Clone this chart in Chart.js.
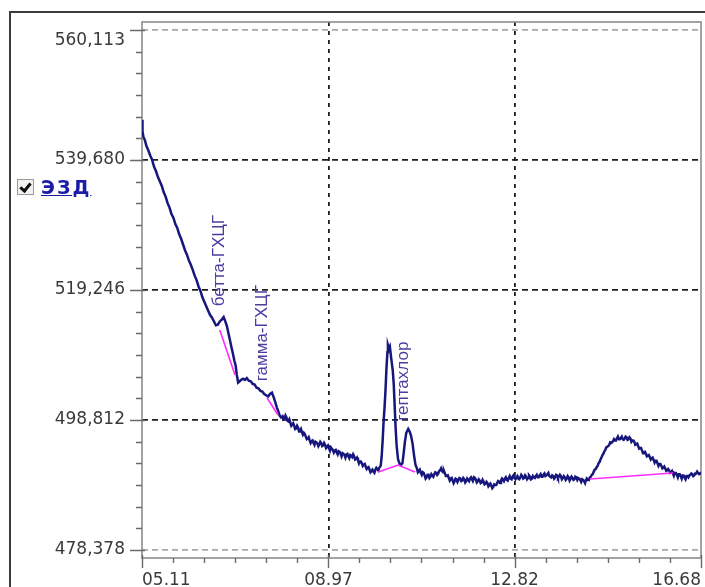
<!DOCTYPE html>
<html>
<head>
<meta charset="utf-8">
<script src="https://cdn.jsdelivr.net/npm/chart.js@4/dist/chart.umd.min.js"></script>
<style>
  html, body { margin: 0; padding: 0; background: #fff; }
  #wrap { position: relative; width: 705px; height: 587px; overflow: hidden; background: #fff; }
  #frame { position: absolute; left: 9px; top: 11px; width: 720px; height: 600px;
           border-left: 2px solid #3c3c3c; border-top: 2px solid #3c3c3c; }
  #chart { position: absolute; left: 0; top: 0; }
  #legend { position: absolute; left: 17px; top: 177px; height: 20px; display: flex; align-items: center; }
  #legend .box { position: relative; width: 17px; height: 16px; box-sizing: border-box;
                 border: 1px solid #9a9a9a; background: #f2f2ee; margin-right: 7px; }
  #legend .box::after { content: ""; position: absolute; left: 4px; top: 1px; width: 4px; height: 8px;
                        border-right: 3px solid #111; border-bottom: 3px solid #111; transform: rotate(40deg); }
  #legend .name { font: bold 19px "DejaVu Sans", sans-serif; color: #1c1ca8; text-decoration: underline;
                  letter-spacing: 2px; }
</style>
</head>
<body>
<div id="wrap">
  <div id="frame"></div>
  <canvas id="chart" width="705" height="587"></canvas>
  <div id="legend"><span class="box"></span><span class="name">ЭЗД</span></div>
</div>
<script>
// Axis tick labels as printed by the acquisition software
const xTickLabels = ["05.11", "08.97", "12.82", "16.68"];
const yTickLabels = ["478,378", "498,812", "519,246", "539,680", "560,113"];

// Detector trace, [retention time (min), signal], split into stretches
const traceDescent = [
  [5.11,546.0],[5.12,544.2],[5.14,543.3],[5.17,542.8],[5.20,541.9],[5.24,541.2],[5.28,540.4],[5.32,539.7],
  [5.36,538.6],[5.40,537.9],[5.44,537.0],[5.48,536.3],[5.52,535.6],[5.56,534.6],[5.60,533.9],[5.64,532.9],
  [5.68,532.2],[5.72,531.2],[5.76,530.6],[5.80,529.6],[5.84,529.0],[5.88,528.0],[5.92,527.3],[5.96,526.4],
  [6.00,525.5],[6.04,524.8],[6.08,523.9],[6.12,523.2],[6.16,522.4],[6.20,521.5],[6.24,520.8],[6.28,519.8],
  [6.32,519.1],[6.36,518.1],[6.40,517.4],[6.44,516.7],[6.48,516.0],[6.52,515.3],[6.56,514.9],[6.60,514.3],
  [6.64,513.7],[6.68,513.8],[6.72,514.3],[6.76,514.6],[6.80,515.0],[6.84,514.2],[6.87,513.5],[6.90,512.4],
  [6.93,511.4],[6.96,510.3],[6.99,509.3],[7.02,508.2],[7.05,507.3],[7.07,506.0],[7.10,504.7],[7.13,504.9],
  [7.16,505.1],[7.20,505.3],[7.24,505.1],[7.28,505.4],[7.32,505.0],[7.36,504.9],[7.40,504.5],[7.44,504.4],
  [7.48,503.9],[7.52,503.8],[7.56,503.4],[7.60,503.3],[7.64,502.9],[7.68,502.7],[7.72,502.5],[7.76,502.9],
  [7.80,503.1],[7.84,502.3],[7.87,501.6],[7.90,500.8],[7.93,500.2],[7.96,499.5],[7.99,499.2]
];
const traceMid = [
  [8.02,499.4],[8.04,498.9],[8.06,499.0],[8.08,499.5],[8.10,499.2],[8.12,498.7],[8.14,498.6],[8.16,498.9],
  [8.18,498.4],[8.20,497.9],[8.22,498.1],[8.24,498.3],[8.26,497.9],[8.28,497.4],[8.30,497.5],[8.32,497.9],
  [8.34,497.6],[8.36,497.0],[8.38,497.1],[8.40,497.4],[8.42,496.9],[8.44,496.5],[8.46,496.8],[8.48,496.6],
  [8.50,496.2],[8.52,495.8],[8.54,495.9],[8.56,496.1],[8.58,495.6],[8.60,495.2],[8.62,495.5],[8.64,495.6],
  [8.66,495.2],[8.68,494.9],[8.70,495.4],[8.72,495.3],[8.74,495.1],[8.76,494.7],[8.78,495.0],[8.80,495.4],
  [8.82,495.2],[8.84,494.7],[8.86,494.8],[8.88,495.2],[8.90,494.9],[8.92,494.4],[8.94,494.6],[8.96,494.8],
  [8.98,494.4],[9.00,494.0],[9.02,494.5],[9.04,494.3],[9.06,494.1],[9.08,493.7],[9.10,494.0],[9.12,494.1],
  [9.14,493.7],[9.16,493.4],[9.18,493.9],[9.20,493.8],[9.22,493.5],[9.24,493.1],[9.26,493.6],[9.28,493.5],
  [9.30,493.3],[9.32,492.9],[9.34,493.4],[9.36,493.5],[9.38,493.1],[9.40,492.8],[9.42,493.3],[9.44,493.2],
  [9.46,493.0],[9.48,493.4],[9.50,493.1],[9.52,492.6],[9.54,492.7],[9.56,492.9],[9.58,492.5],[9.60,492.0],
  [9.62,492.3],[9.64,492.3],[9.66,492.0],[9.68,491.6],[9.70,491.8],[9.72,491.9],[9.74,491.5],[9.76,491.1],
  [9.78,491.3],[9.80,491.4],[9.82,491.0],[9.84,490.6],[9.86,490.8],[9.88,491.0],[9.90,490.7],[9.92,490.5],
  [9.94,491.0],[9.96,491.3],[9.98,491.1],[10.00,490.9],[10.02,491.3]
];
const traceHeptachlor = [
  [10.05,491.6],[10.07,493.0],[10.09,495.5],[10.11,498.5],[10.13,500.8],[10.15,503.5],[10.17,507.0],[10.19,509.5],
  [10.20,510.6],[10.22,510.1],[10.24,510.4],[10.26,509.0],[10.28,507.8],[10.30,506.6],[10.32,504.5],[10.34,501.0],
  [10.36,497.5],[10.38,494.8],[10.41,492.6],[10.44,492.0],[10.47,491.7],[10.50,492.0],[10.52,493.2],[10.55,495.3],
  [10.58,496.8],[10.62,497.4],[10.65,497.0],[10.68,496.3],[10.71,495.1],[10.74,493.3],[10.77,491.8]
];
const traceFlat = [
  [10.80,491.2],[10.82,490.6],[10.84,490.8],[10.86,491.0],[10.88,490.5],[10.90,490.2],[10.92,490.6],[10.94,490.5],
  [10.96,490.1],[10.98,489.6],[11.00,489.8],[11.02,490.2],[11.04,490.2],[11.06,489.7],[11.08,489.9],[11.10,490.3],
  [11.12,490.1],[11.14,489.9],[11.16,490.3],[11.18,490.6],[11.20,490.5],[11.22,490.2],[11.24,490.4],[11.26,490.8],
  [11.28,490.9],[11.30,491.2],[11.32,490.8],[11.34,490.6],[11.36,490.8],[11.38,490.4],[11.40,490.0],[11.42,490.0],
  [11.44,490.1],[11.46,489.7],[11.48,489.3],[11.50,489.6],[11.52,489.7],[11.54,489.3],[11.56,488.9],[11.58,489.2],
  [11.60,489.6],[11.62,489.5],[11.64,489.1],[11.66,489.4],[11.68,489.7],[11.70,489.6],[11.72,489.2],[11.74,489.3],
  [11.76,489.7],[11.78,489.5],[11.80,489.0],[11.82,489.2],[11.84,489.6],[11.86,489.4],[11.88,489.2],[11.90,489.6],
  [11.92,489.8],[11.94,489.5],[11.96,489.3],[11.98,489.8],[12.00,489.7],[12.02,489.4],[12.04,489.0],[12.06,489.2],
  [12.08,489.5],[12.10,489.3],[12.12,488.9],[12.14,489.0],[12.16,489.4],[12.18,489.1],[12.20,488.7],[12.22,488.8],
  [12.24,489.1],[12.26,488.9],[12.28,488.4],[12.30,488.6],[12.32,488.8],[12.34,488.5],[12.36,488.1],[12.38,488.3],
  [12.40,488.7],[12.42,488.6],[12.44,488.6],[12.46,488.9],[12.48,489.2],[12.50,489.1],[12.52,488.9],[12.54,489.3],
  [12.56,489.6],[12.58,489.4],[12.60,489.2],[12.62,489.6],[12.64,489.8],[12.66,489.4],[12.68,489.3],[12.70,489.7],
  [12.72,490.0],[12.74,489.6],[12.76,489.5],[12.78,489.9],[12.80,490.1],[12.82,489.7],[12.84,489.5],[12.86,489.8],
  [12.88,490.0],[12.90,489.6],[12.92,489.5],[12.94,489.8],[12.96,490.2],[12.98,490.0],[13.00,489.6],[13.02,489.7],
  [13.04,490.1],[13.06,489.9],[13.08,489.5],[13.10,489.7],[13.12,490.1],[13.14,489.9],[13.16,489.5],[13.18,489.6],
  [13.20,490.0],[13.22,489.8],[13.24,489.7],[13.26,490.0],[13.28,490.2],[13.30,489.8],[13.32,489.8],[13.34,490.1],
  [13.36,490.3],[13.38,489.9],[13.40,489.9],[13.42,490.2],[13.44,490.4],[13.46,490.0],[13.48,490.1],[13.50,490.3],
  [13.52,490.5],[13.54,490.0],[13.56,489.9],[13.58,489.8],[13.60,490.1],[13.62,490.0],[13.64,489.6],[13.66,489.8],
  [13.68,490.2],[13.70,490.1],[13.72,489.7],[13.74,489.9],[13.76,490.2],[13.78,490.0],[13.80,489.5],[13.82,489.7],
  [13.84,490.0],[13.86,489.8],[13.88,489.4],[13.90,489.6],[13.92,490.0],[13.94,489.8],[13.96,489.3],[13.98,489.6],
  [14.00,489.9],[14.02,489.7],[14.04,489.4],[14.06,489.5],[14.08,489.9],[14.10,489.8],[14.12,489.4],[14.14,489.7],
  [14.16,489.6],[14.18,489.4],[14.20,489.1],[14.22,489.5],[14.24,489.4],[14.26,489.2],[14.28,488.9],[14.30,489.4],
  [14.32,489.6],[14.34,489.5],[14.36,489.4],[14.38,489.8]
];
const traceLatePeak = [
  [14.40,489.9],[14.42,490.2],[14.44,490.3],[14.46,490.7],[14.48,491.0],[14.50,491.1],[14.52,491.4],[14.54,491.6],
  [14.56,492.0],[14.58,492.2],[14.60,492.6],[14.62,492.9],[14.64,493.3],[14.66,493.5],[14.68,493.9],[14.70,494.1],
  [14.72,494.5],[14.74,494.6],[14.76,494.7],[14.78,494.9],[14.80,495.3],[14.82,495.2],[14.84,495.3],[14.86,495.5],
  [14.88,495.8],[14.90,495.6],[14.92,495.7],[14.94,495.9],[14.96,496.2],[14.98,495.8],[15.00,495.8],[15.02,496.0],
  [15.04,496.2],[15.06,495.8],[15.08,495.7],[15.10,495.9],[15.12,496.2],[15.14,496.1],[15.16,495.7],[15.18,495.8],
  [15.20,496.1],[15.22,495.9],[15.24,495.4],[15.26,495.6],[15.28,495.6],[15.30,495.4],[15.32,494.9],[15.34,495.0],
  [15.36,495.1],[15.38,494.7],[15.40,494.3],[15.42,494.4],[15.44,494.4],[15.46,494.0],[15.48,493.6],[15.50,493.7],
  [15.52,493.8],[15.54,493.5],[15.56,493.1],[15.58,493.2],[15.60,493.3],[15.62,493.0],[15.64,492.6],[15.66,492.8],
  [15.68,492.9],[15.70,492.5],[15.72,492.1],[15.74,492.4],[15.76,492.4],[15.78,492.0],[15.80,491.6],[15.82,491.9],
  [15.84,491.9],[15.86,491.6],[15.88,491.2],[15.90,491.3],[15.92,491.5],[15.94,491.2],[15.96,490.8],[15.98,490.9],
  [16.00,491.1],[16.02,490.9],[16.04,490.5],[16.06,490.6],[16.08,490.8],[16.10,490.4],[16.12,490.1],[16.14,490.5],
  [16.16,490.5],[16.18,490.2],[16.20,489.8],[16.22,490.3],[16.24,490.3],[16.26,490.0],[16.28,489.6],[16.30,490.1],
  [16.32,490.1],[16.34,489.8],[16.36,489.5],[16.38,490.0],[16.40,490.0],[16.42,489.8],[16.44,490.1],[16.46,490.2],
  [16.48,490.4],[16.50,490.3],[16.52,490.0],[16.54,490.1],[16.56,490.4],[16.58,490.4],[16.60,490.7],[16.62,490.5],
  [16.64,490.3],[16.66,490.4],[16.68,490.6]
];

// Integration baselines under the identified peaks
const baseBetta = [[6.72, 512.96], [7.035, 505.88]];
const baseGamma = [[7.70, 502.27], [7.925, 499.59]];
const baseHeptachlor = [[10.00, 490.63], [10.41, 491.73], [10.76, 490.63]];
const baseLate = [[14.38, 489.53], [16.10, 490.47]];

// Peak names and the point (time, signal) where each name starts
const peakNames = ["бетта-ГХЦГ", "гамма-ГХЦГ", "гептахлор"];
const peakLabelTime = [6.70, 7.594, 10.51];
const peakLabelSignal = [516.7, 504.9, 498.7];

const toPoints = pairs => pairs.map(([t, v]) => ({ x: t, y: v }));
const trace = [].concat(traceDescent, traceMid, traceHeptachlor, traceFlat, traceLatePeak);

const xMajor = xTickLabels.map(s => parseFloat(s));
const yMajor = yTickLabels.map(s => parseFloat(s.replace(",", ".")));
// five minor divisions between neighbouring labelled ticks
function withMinor(major) {
  const out = [];
  for (let i = 0; i < major.length - 1; i++) {
    for (let k = 0; k < 6; k++) out.push(major[i] + (major[i + 1] - major[i]) * k / 6);
  }
  out.push(major[major.length - 1]);
  return out;
}
const xAll = withMinor(xMajor);
const yAll = withMinor(yMajor);
const isMajorIdx = i => i % 6 === 0;

const AXIS_FONT = { family: "DejaVu Sans", size: 17 };

// keep the plot rectangle fixed: no extra room reserved for overhanging labels
function fixedFit(size) {
  return s => {
    if (s.isHorizontal()) s.height = size; else s.width = size;
    s.paddingTop = 0; s.paddingBottom = 0; s.paddingLeft = 0; s.paddingRight = 0;
  };
}

// frame, tick marks and peak names
const decor = {
  id: "decor",
  beforeDatasetsDraw(chart) {
    const { ctx, chartArea: a } = chart;
    ctx.save();
    ctx.strokeStyle = "#8c8c8c";
    ctx.lineWidth = 1.6;
    ctx.strokeRect(a.left, a.top, a.right - a.left, a.bottom - a.top);
    ctx.restore();
  },
  afterDraw(chart) {
    const { ctx, chartArea: a, scales: { x, y } } = chart;
    ctx.save();
    ctx.strokeStyle = "#6a6a6a";
    ctx.lineWidth = 1.4;
    ctx.beginPath();
    xAll.forEach((v, i) => {
      const px = Math.round(x.getPixelForValue(v)) + 0.5;
      ctx.moveTo(px, a.bottom - (isMajorIdx(i) ? 3 : 0));
      ctx.lineTo(px, a.bottom + (isMajorIdx(i) ? 10 : 5));
    });
    yAll.forEach((v, i) => {
      const py = Math.round(y.getPixelForValue(v)) + 0.5;
      ctx.moveTo(a.left - (isMajorIdx(i) ? 12 : 6), py);
      ctx.lineTo(a.left + (isMajorIdx(i) ? 3 : 0), py);
    });
    ctx.stroke();

    ctx.fillStyle = "#4f3aa0";
    ctx.font = '17px "Liberation Sans", Arial, sans-serif';
    ctx.textAlign = "left";
    ctx.textBaseline = "middle";
    peakNames.forEach((name, i) => {
      const px = x.getPixelForValue(peakLabelTime[i]);
      const py = y.getPixelForValue(peakLabelSignal[i]);
      ctx.save();
      ctx.translate(px, py);
      ctx.rotate(-Math.PI / 2);
      ctx.fillText(name, 0, 0);
      ctx.restore();
    });
    ctx.restore();
  }
};

const pink = { borderColor: "#ff2bff", borderWidth: 1.6, pointRadius: 0, showLine: true, tension: 0 };

new Chart(document.getElementById("chart"), {
  type: "scatter",
  data: {
    datasets: [
      { ...pink, data: toPoints(baseBetta) },
      { ...pink, data: toPoints(baseGamma) },
      { ...pink, data: toPoints(baseHeptachlor) },
      { ...pink, data: toPoints(baseLate) },
      { label: "ЭЗД", data: toPoints(trace), showLine: true, tension: 0,
        borderColor: "#16167c", borderWidth: 2.5, pointRadius: 0 }
    ]
  },
  options: {
    responsive: false,
    animation: false,
    devicePixelRatio: 1,
    layout: { padding: { top: 22, right: 4, left: 0, bottom: 0 } },
    plugins: { legend: { display: false }, tooltip: { enabled: false } },
    scales: {
      x: {
        type: "linear",
        min: xMajor[0],
        max: xMajor[xMajor.length - 1],
        afterBuildTicks: s => { s.ticks = xAll.map(v => ({ value: v })); },
        afterFit: fixedFit(29),
        border: { display: false, dash: [4, 5] },
        grid: {
          drawTicks: false,
          color: c => (c.index % 6 === 0 && c.index > 0 && c.index < xAll.length - 1) ? "#1e1e1e" : "rgba(0,0,0,0)",
          lineWidth: c => (c.index % 6 === 0) ? 1.8 : 0
        },
        ticks: {
          autoSkip: false,
          maxRotation: 0,
          align: "inner",
          padding: 12,
          color: "#3a3a3a",
          font: AXIS_FONT,
          callback: (v, i) => isMajorIdx(i) ? xTickLabels[i / 6] : ""
        }
      },
      y: {
        type: "linear",
        min: 477.121,
        max: 561.370,
        afterBuildTicks: s => { s.ticks = yAll.map(v => ({ value: v })); },
        afterFit: fixedFit(142),
        border: { display: false, dash: [6, 4] },
        grid: {
          drawTicks: false,
          color: c => {
            if (c.index % 6 !== 0) return "rgba(0,0,0,0)";
            return (c.index === 0 || c.index === yAll.length - 1) ? "#a8a8a8" : "#1e1e1e";
          },
          lineWidth: c => (c.index % 6 === 0) ? 1.8 : 0
        },
        ticks: {
          autoSkip: false,
          padding: 17,
          color: "#3a3a3a",
          font: AXIS_FONT,
          callback: (v, i) => {
            if (!isMajorIdx(i)) return "";
            const lbl = yTickLabels[i / 6];
            return i === yAll.length - 1 ? ["", lbl] : lbl;
          }
        }
      }
    }
  },
  plugins: [decor]
});
</script>
</body>
</html>
